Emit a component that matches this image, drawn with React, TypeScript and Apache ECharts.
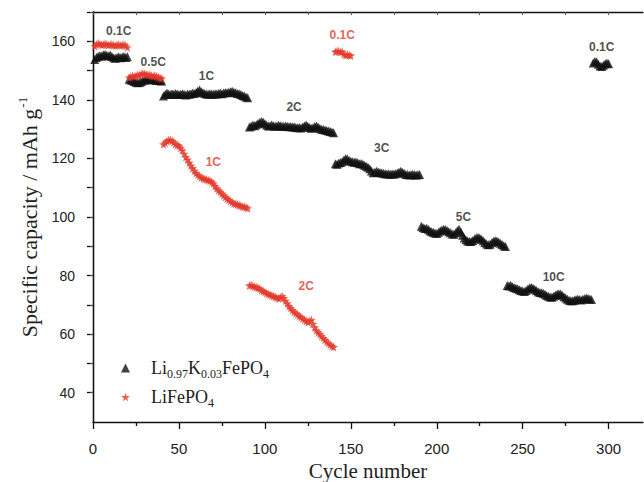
import React, { useEffect, useRef } from "react";
import * as echarts from "echarts";

// Li0.97K0.03FePO4 specific capacity, cycles 1..300
const blackValues: number[] = [
  // 0.1C (1-20)
  153.8, 154.5, 154.9, 155.1, 155.0, 155.4, 155.5, 155.2, 155.0, 155.3,
  154.8, 154.4, 154.2, 154.5, 154.7, 154.4, 154.6, 154.8, 154.5, 154.7,
  // 0.5C (21-40)
  147.0, 146.8, 146.6, 146.3, 146.0, 145.8, 145.9, 146.2, 146.5, 146.8,
  147.0, 147.2, 147.0, 146.8, 147.1, 146.9, 146.6, 146.8, 146.5, 146.4,
  // 1C (41-90)
  141.3, 141.8, 142.3, 142.0, 141.8, 142.1, 141.9, 142.2, 142.0, 141.8,
  141.9, 142.1, 141.9, 141.7, 142.0, 141.9, 142.1, 142.3, 142.2, 142.5,
  143.0, 143.4, 142.8, 142.4, 142.2, 142.0, 141.9, 142.1, 142.0, 141.9,
  142.1, 142.0, 142.2, 142.3, 142.1, 142.3, 142.5, 142.4, 142.6, 142.8,
  142.9, 142.6, 142.4, 142.2, 142.1, 141.8, 141.5, 141.3, 141.0, 140.7,
  // 2C (91-140)
  130.7, 131.0, 131.4, 131.2, 131.5, 131.9, 132.3, 132.6, 132.4, 131.8,
  131.4, 131.1, 131.2, 131.4, 131.2, 131.0, 131.1, 131.3, 131.2, 131.0,
  130.9, 131.1, 131.0, 130.8, 130.9, 130.7, 130.8, 130.6, 130.5, 130.6,
  130.4, 130.7, 131.1, 131.4, 131.0, 130.6, 130.3, 130.5, 130.9, 131.1,
  130.7, 130.2, 130.0, 129.9, 129.7, 129.5, 129.4, 129.2, 129.0, 128.8,
  // 3C (141-190)
  118.2, 118.0, 118.4, 118.6, 118.9, 119.5, 120.0, 119.8, 119.3, 119.0,
  118.9, 118.7, 118.8, 118.5, 118.2, 118.3, 118.0, 117.7, 117.3, 117.0,
  116.5, 115.7, 115.1, 115.3, 115.6, 115.4, 115.2, 115.0, 114.9, 114.8,
  114.7, 114.8, 114.6, 114.7, 114.7, 114.8, 115.0, 115.3, 115.6, 115.3,
  114.9, 114.5, 114.5, 114.3, 114.4, 114.6, 114.4, 114.3, 114.4, 114.5,
  // 5C (191-240)
  96.8, 96.4, 96.1, 96.2, 95.8, 95.3, 95.0, 94.8, 94.5, 94.4,
  94.8, 95.2, 95.6, 95.8, 95.7, 95.4, 95.0, 94.6, 94.2, 94.1,
  94.6, 95.3, 95.8, 94.9, 93.8, 92.8, 92.2, 91.8, 91.6, 91.6,
  92.0, 92.5, 92.9, 93.0, 92.8, 92.4, 91.9, 91.3, 90.8, 90.5,
  90.7, 91.2, 91.7, 91.9, 91.8, 91.5, 91.0, 90.6, 90.2, 89.9,
  // 10C (241-290)
  76.6, 76.4, 76.7, 76.2, 75.9, 75.7, 75.5, 75.2, 74.9, 74.7,
  74.6, 74.9, 75.4, 75.8, 75.9, 75.7, 75.3, 74.9, 74.5, 74.2,
  74.1, 74.0, 73.6, 73.2, 72.9, 72.7, 72.6, 72.9, 73.3, 73.6,
  73.8, 73.7, 73.3, 72.8, 72.3, 71.9, 71.6, 71.4, 71.4, 71.6,
  71.8, 71.9, 71.8, 71.7, 71.9, 72.1, 72.3, 72.2, 72.0, 71.8,
  // 0.1C (291-300)
  152.6, 153.1, 153.0, 152.2, 151.6, 151.4, 151.8, 152.3, 152.6, 152.3,
];

// LiFePO4 specific capacity, cycles 1..150
const redValues: number[] = [
  // 0.1C (1-20)
  158.4, 158.9, 159.3, 159.1, 158.8, 158.9, 159.2, 158.9, 158.7, 158.9,
  159.0, 158.7, 158.5, 158.8, 158.9, 158.6, 158.7, 158.9, 158.5, 157.9,
  // 0.5C (21-40)
  147.6, 147.9, 148.2, 148.0, 148.3, 148.5, 148.4, 148.8, 149.1, 148.9,
  148.7, 148.5, 148.6, 148.3, 148.1, 148.3, 148.0, 147.7, 147.5, 147.3,
  // 1C (41-90)
  124.8, 125.3, 125.9, 126.3, 126.4, 126.0, 125.5, 124.9, 124.6, 124.3,
  123.6, 122.8, 121.6, 120.5, 119.6, 118.5, 117.6, 116.6, 115.8, 115.0,
  114.4, 113.9, 113.5, 113.2, 113.0, 112.8, 112.6, 112.4, 112.0, 111.4,
  110.6, 109.8, 109.1, 108.6, 108.0, 107.4, 106.8, 106.3, 105.9, 105.4,
  105.0, 104.6, 104.5, 104.3, 104.0, 103.8, 103.6, 103.5, 103.3, 103.0,
  // 2C (91-140)
  76.6, 76.8, 76.5, 76.2, 76.0, 75.8, 75.5, 75.0, 74.7, 74.4,
  74.0, 73.7, 73.5, 73.2, 73.0, 72.7, 72.4, 72.2, 72.5, 73.0,
  72.3, 71.4, 70.5, 69.6, 68.9, 68.2, 67.6, 67.1, 66.7, 66.2,
  65.8, 65.3, 64.9, 64.5, 64.1, 64.4, 64.9, 63.5, 62.3, 61.3,
  60.6, 60.0, 59.3, 58.7, 58.1, 57.5, 56.9, 56.4, 55.9, 55.6,
  // 0.1C (141-150)
  156.4, 156.7, 156.6, 156.3, 156.5, 155.6, 155.2, 155.5, 155.3, 155.1,
];

// C-rate annotations
const rateLabels = ["0.1C", "0.5C", "1C", "2C", "0.1C", "3C", "5C", "10C", "0.1C", "1C", "2C"];
const rateLabelX = [15, 35, 66, 117, 145, 168, 215.5, 268, 296, 70, 124];
const rateLabelY = [163.4, 153, 148, 137.7, 162.2, 123.5, 100.1, 79.6, 158.2, 118.9, 76.5];
const rateLabelIsRed = [false, false, false, false, true, false, false, false, false, true, true];

const xMajorTicks = [0, 50, 100, 150, 200, 250, 300];
const xMinorTicks = [25, 75, 125, 175, 225, 275];
const yMajorTicks = [40, 60, 80, 100, 120, 140, 160];
const yMinorTicks = [50, 70, 90, 110, 130, 150, 170];

const BLACK_NAME = "Li0.97K0.03FePO4";
const RED_NAME = "LiFePO4";

const RED = "#e2382a";
const BLACK = "#111111";
const STAR =
  "path://M50,0 L61,35 98,35 68,57 79,91 50,70 21,91 32,57 2,35 39,35Z";

export default function App() {
  const ref = useRef<HTMLDivElement>(null);
  useEffect(() => {
    if (!ref.current) return;
    const chart = echarts.init(ref.current, undefined, { renderer: "svg" });
    const blackData = blackValues.map((v, i) => [i + 1, v]);
    const redData = redValues.map((v, i) => [i + 1, v]);
    const annData = rateLabels.map((t, i) => ({
      value: [rateLabelX[i], rateLabelY[i]],
      name: t,
      label: { color: rateLabelIsRed[i] ? RED : "#222" },
    }));
    const axisLineStyle = { color: "#111", width: 1.3 };
    chart.setOption({
      animation: false,
      backgroundColor: "#ffffff",
      grid: {
        left: 93,
        top: 12,
        right: 1,
        bottom: 60,
        containLabel: false,
        outerBoundsMode: "none",
      },
      xAxis: [
        {
          type: "value",
          min: 0,
          max: 320,
          position: "bottom",
          axisLine: { lineStyle: axisLineStyle },
          axisTick: { customValues: xMajorTicks, length: 7, lineStyle: axisLineStyle },
          axisLabel: {
            customValues: xMajorTicks,
            fontFamily: "Liberation Sans",
            fontSize: 15,
            color: "#222",
            margin: 19,
          },
          splitLine: { show: false },
          name: "Cycle number",
          nameLocation: "middle",
          nameGap: 36,
          nameTextStyle: { fontFamily: "Liberation Serif", fontSize: 21, color: "#222" },
        },
        {
          type: "value",
          min: 0,
          max: 320,
          position: "bottom",
          axisLine: { show: false },
          axisTick: { customValues: xMinorTicks, length: 4, lineStyle: axisLineStyle },
          axisLabel: { show: false },
          splitLine: { show: false },
        },
        {
          type: "value",
          min: 0,
          max: 320,
          position: "top",
          axisLine: { lineStyle: axisLineStyle },
          axisTick: {
            customValues: [...xMajorTicks, ...xMinorTicks],
            inside: true,
            length: 3,
            lineStyle: { color: "#555", width: 1 },
          },
          axisLabel: { show: false },
          splitLine: { show: false },
        },
      ],
      yAxis: [
        {
          type: "value",
          min: 30,
          max: 170,
          position: "left",
          axisLine: { show: true, lineStyle: axisLineStyle },
          axisTick: {
            show: true,
            customValues: [...yMajorTicks, ...yMinorTicks],
            length: 6,
            lineStyle: axisLineStyle,
          },
          axisLabel: {
            customValues: yMajorTicks,
            fontFamily: "Liberation Sans",
            fontSize: 14,
            color: "#222",
            margin: 18,
          },
          splitLine: { show: false },
          name: "{a|Specific capacity / mAh g}{b|-1}",
          nameLocation: "middle",
          nameGap: 51,
          nameTextStyle: {
            fontFamily: "Liberation Serif",
            fontSize: 22,
            color: "#222",
            rich: {
              a: { fontFamily: "Liberation Serif", fontSize: 22, color: "#222" },
              b: {
                fontFamily: "Liberation Serif",
                fontSize: 13,
                color: "#222",
                padding: [0, 0, 13, 1],
              },
            },
          },
        },
        {
          type: "value",
          min: 30,
          max: 170,
          position: "right",
          axisLine: { show: true, lineStyle: axisLineStyle },
          axisTick: {
            show: true,
            customValues: [...yMajorTicks, ...yMinorTicks],
            inside: true,
            length: 3,
            lineStyle: { color: "#555", width: 1 },
          },
          axisLabel: { show: false },
          splitLine: { show: false },
        },
      ],
      legend: {
        orient: "vertical",
        left: 116,
        top: 354,
        itemWidth: 9,
        itemHeight: 9,
        itemGap: 8,
        data: [BLACK_NAME, RED_NAME],
        formatter: (n: string) =>
          n === BLACK_NAME
            ? "{n|Li}{s|0.97}{n|K}{s|0.03}{n|FePO}{s|4}"
            : "{n|LiFePO}{s|4}",
        textStyle: {
          padding: [0, 0, 0, 16],
          rich: {
            n: { fontFamily: "Liberation Serif", fontSize: 18, color: "#222" },
            s: {
              fontFamily: "Liberation Serif",
              fontSize: 12,
              color: "#222",
              padding: [12, 0, 0, 0],
            },
          },
        },
      },
      series: [
        {
          name: BLACK_NAME,
          type: "scatter",
          xAxisIndex: 0,
          yAxisIndex: 0,
          symbol: "triangle",
          symbolSize: 9,
          itemStyle: { color: BLACK },
          data: blackData,
        },
        {
          name: RED_NAME,
          type: "scatter",
          xAxisIndex: 0,
          yAxisIndex: 0,
          symbol: STAR,
          symbolSize: 9,
          itemStyle: { color: RED },
          data: redData,
        },
        {
          name: "labels",
          type: "scatter",
          xAxisIndex: 0,
          yAxisIndex: 0,
          symbolSize: 0,
          silent: true,
          z: 5,
          label: {
            show: true,
            position: "inside",
            formatter: (p: any) => p.name,
            fontFamily: "Liberation Sans",
            fontWeight: "bold",
            fontSize: 12,
          },
          data: annData,
        },
      ],
    });
    return () => chart.dispose();
  }, []);
  return <div ref={ref} style={{ width: 644, height: 482, position: "absolute", left: 0, top: 0 }} />;
}
